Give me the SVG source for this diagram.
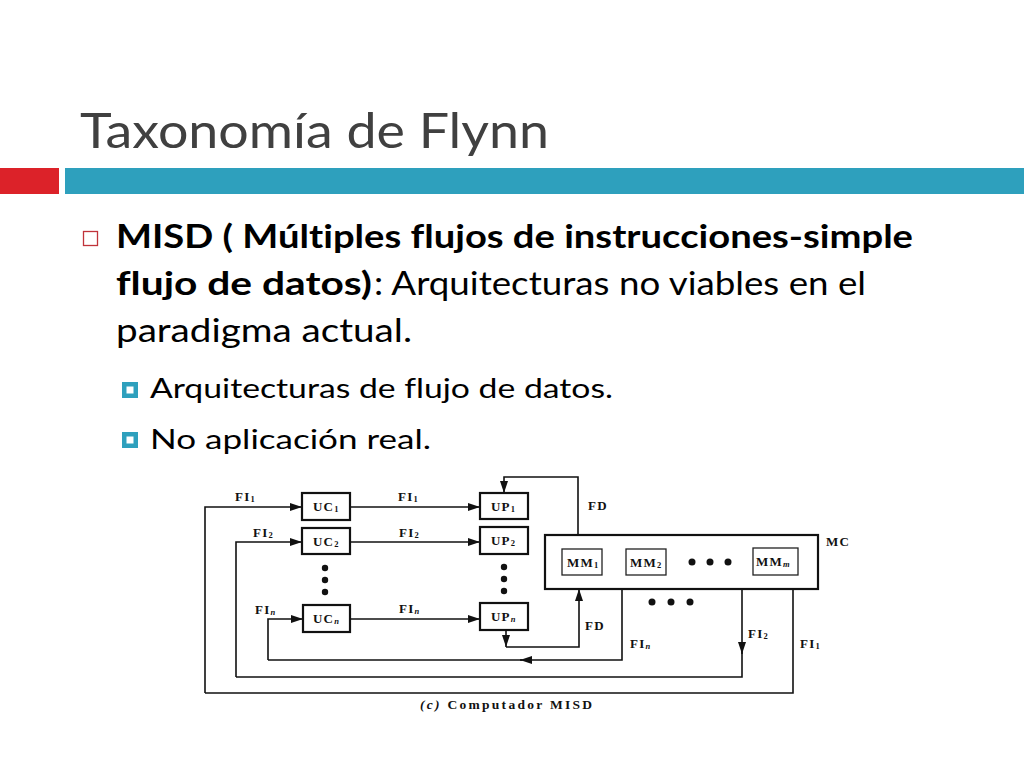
<svg xmlns="http://www.w3.org/2000/svg" width="1024" height="768" viewBox="0 0 1024 768">
<defs>
<style>
.title{font-family:Lato,"Liberation Sans",sans-serif;font-size:48px;fill:#404040}
.b{font-family:Lato,"Liberation Sans",sans-serif;font-size:32px;fill:#000;font-weight:bold;font-variant-ligatures:none}
.r{font-family:Lato,"Liberation Sans",sans-serif;font-size:32px;fill:#000;font-variant-ligatures:none}
.s{font-family:Lato,"Liberation Sans",sans-serif;font-size:27px;fill:#000;font-variant-ligatures:none}
.lb{font-family:"Liberation Serif","DejaVu Serif",serif;font-size:13px;font-weight:bold;fill:#111;letter-spacing:1.2px}
.sub{font-size:8.5px;letter-spacing:0}
.cap{font-family:"Liberation Serif","DejaVu Serif",serif;font-size:13.5px;font-weight:bold;fill:#111}
.box{fill:#fff;stroke:#111;stroke-width:2.2}
.mm{fill:#fff;stroke:#222;stroke-width:1.3}
.ln{fill:none;stroke:#111;stroke-width:1.6}
.arr{marker-end:url(#ah)}
</style>
<marker id="ah" viewBox="0 0 12 8" refX="12" refY="4" markerWidth="12" markerHeight="8" markerUnits="userSpaceOnUse" orient="auto">
<path d="M0,0 L12,4 L0,8 Z" fill="#111"/>
</marker>
</defs>
<rect width="1024" height="768" fill="#fff"/>
<g id="header">
<text class="title" x="80" y="148" textLength="469" lengthAdjust="spacingAndGlyphs">Taxonomía de Flynn</text>
<rect x="0" y="168" width="59" height="26" fill="#dc2229"/>
<rect x="65" y="168" width="959" height="26" fill="#2ea0bd"/>
</g>
<g id="bullets">
<rect x="83.5" y="231.5" width="14" height="14" fill="none" stroke="#c0333a" stroke-width="1.3"/>
<text class="b" x="116" y="248" textLength="797" lengthAdjust="spacingAndGlyphs">MISD ( Múltiples flujos de instrucciones-simple</text>
<text class="b" x="116" y="295" textLength="256" lengthAdjust="spacingAndGlyphs">flujo de datos)</text>
<text class="r" x="374" y="295" textLength="492" lengthAdjust="spacingAndGlyphs">: Arquitecturas no viables en el</text>
<text class="r" x="116" y="342" textLength="296" lengthAdjust="spacingAndGlyphs">paradigma actual.</text>
<rect x="122" y="382" width="16" height="16" fill="#2ea0bd"/>
<rect x="126.5" y="386.5" width="7" height="7" fill="#fff"/>
<text class="s" x="150" y="398" textLength="463" lengthAdjust="spacingAndGlyphs">Arquitecturas de flujo de datos.</text>
<rect x="122" y="432" width="16" height="16" fill="#2ea0bd"/>
<rect x="126.5" y="436.5" width="7" height="7" fill="#fff"/>
<text class="s" x="150" y="449" textLength="281" lengthAdjust="spacingAndGlyphs">No aplicación real.</text>
</g>
<g id="connectors">
<path class="ln arr" d="M205,693 L205,507 L302,507"/>
<path class="ln arr" d="M236,677 L236,542 L302,542"/>
<path class="ln arr" d="M268,660 L268,619 L303,619"/>
<path class="ln arr" d="M350,507 L480,507"/>
<path class="ln arr" d="M350,542 L480,542"/>
<path class="ln arr" d="M350,619 L480,619"/>
<path class="ln arr" d="M578,535 L578,477 L504,477 L504,493"/>
<path class="ln arr" d="M506,630 L506,647"/>
<path class="ln arr" d="M506,647 L579,647 L579,589"/>
<path class="ln arr" d="M622,589 L622,660 L520,660"/>
<path class="ln" d="M522,660 L268,660"/>
<path class="ln arr" d="M742,589 L742,654"/>
<path class="ln" d="M742,650 L742,677 L236,677"/>
<path class="ln" d="M793,589 L793,693 L205,693"/>
</g>
<g id="UC1"><rect class="box" x="302" y="493" width="48" height="27"/><text class="lb" x="313" y="511">UC<tspan class="sub" dy="1">1</tspan></text></g>
<g id="UC2"><rect class="box" x="302" y="528" width="48" height="26"/><text class="lb" x="313" y="546">UC<tspan class="sub" dy="1">2</tspan></text></g>
<g id="UCn"><rect class="box" x="303" y="605" width="47" height="27"/><text class="lb" x="313" y="623">UC<tspan class="sub" dy="1" font-style="italic">n</tspan></text></g>
<g id="UP1"><rect class="box" x="480" y="493" width="48" height="26"/><text class="lb" x="491" y="511">UP<tspan class="sub" dy="1">1</tspan></text></g>
<g id="UP2"><rect class="box" x="480" y="527" width="48" height="27"/><text class="lb" x="491" y="545">UP<tspan class="sub" dy="1">2</tspan></text></g>
<g id="UPn"><rect class="box" x="480" y="603" width="48" height="27"/><text class="lb" x="491" y="621">UP<tspan class="sub" dy="1" font-style="italic">n</tspan></text></g>
<g id="dots" fill="#111">
<circle cx="325" cy="568" r="3.2"/><circle cx="325" cy="580" r="3.2"/><circle cx="325" cy="592" r="3.2"/>
<circle cx="504" cy="567" r="3.2"/><circle cx="504" cy="579" r="3.2"/><circle cx="504" cy="591" r="3.2"/>
<circle cx="652" cy="602" r="3.5"/><circle cx="671" cy="602" r="3.5"/><circle cx="690" cy="602" r="3.5"/>
</g>
<g id="MC">
<rect class="box" x="545" y="535" width="273" height="54"/>
<rect class="mm" x="562" y="549" width="40" height="26"/><text class="lb" x="567" y="567" letter-spacing="0.5">MM<tspan class="sub" dy="1">1</tspan></text>
<rect class="mm" x="626" y="549" width="40" height="26"/><text class="lb" x="630" y="567" letter-spacing="0.5">MM<tspan class="sub" dy="1">2</tspan></text>
<circle cx="692" cy="562" r="3.5" fill="#111"/><circle cx="710" cy="562" r="3.5" fill="#111"/><circle cx="728" cy="562" r="3.5" fill="#111"/>
<rect class="mm" x="753" y="548" width="45" height="27"/><text class="lb" x="756" y="566" letter-spacing="0.5">MM<tspan class="sub" dy="1" font-style="italic">m</tspan></text>
<text class="lb" x="826" y="546">MC</text>
</g>
<g id="labels">
<text class="lb" x="235" y="501">FI<tspan class="sub" dy="1">1</tspan></text>
<text class="lb" x="253" y="537">FI<tspan class="sub" dy="1">2</tspan></text>
<text class="lb" x="255" y="614">FI<tspan class="sub" dy="1" font-style="italic">n</tspan></text>
<text class="lb" x="398" y="501">FI<tspan class="sub" dy="1">1</tspan></text>
<text class="lb" x="399" y="537">FI<tspan class="sub" dy="1">2</tspan></text>
<text class="lb" x="399" y="613">FI<tspan class="sub" dy="1" font-style="italic">n</tspan></text>
<text class="lb" x="588" y="510">FD</text>
<text class="lb" x="585" y="630">FD</text>
<text class="lb" x="630" y="648">FI<tspan class="sub" dy="1" font-style="italic">n</tspan></text>
<text class="lb" x="748" y="638">FI<tspan class="sub" dy="1">2</tspan></text>
<text class="lb" x="800" y="648">FI<tspan class="sub" dy="1">1</tspan></text>
<text class="cap" x="420" y="709" textLength="172" lengthAdjust="spacing"><tspan font-style="italic">(c)</tspan> Computador MISD</text>
</g>
</svg>
